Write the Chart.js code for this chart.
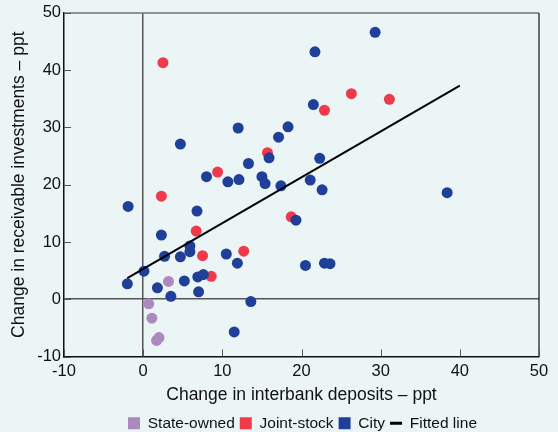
<!DOCTYPE html>
<html>
<head>
<meta charset="utf-8">
<script src="https://cdn.jsdelivr.net/npm/chart.js@4.4.1/dist/chart.umd.min.js"></script>
<style>
  html, body { margin: 0; padding: 0; background: #ebf5f6; }
  #wrap { position: relative; width: 558px; height: 432px; }
</style>
</head>
<body>
<div id="wrap"><canvas id="chart" width="558" height="432"></canvas></div>
<script>
// Valores (ppt)
const stateX = [3.2, 0.7, 1.1, 2.0, 1.7];
const stateY = [3.1, -0.8, -3.3, -6.7, -7.2];

const jointX = [2.5, 15.7, 9.4, 2.3, 6.7, 7.5, 12.7, 8.6, 26.3, 31.1, 22.9, 18.7];
const jointY = [41.3, 25.6, 22.2, 18.0, 11.9, 7.6, 8.4, 4.0, 35.9, 34.9, 33.0, 14.4];

const cityX = [12.0, 4.7, 15.9, 13.3, 8.0, 10.7, 12.1, 15.0, 15.4, -1.9, 6.8, 2.3, 5.9, 5.9,
  2.7, 4.7, 10.5, 11.9, 0.1, -2.0, 5.2, 6.9, 7.6, 1.8, 7.0, 3.5, 13.6, 11.5, 21.5, 18.3,
  17.1, 22.3, 17.4, 21.1, 22.6, 19.3, 20.5, 22.9, 23.6, 29.3, 21.7, 38.4];
const cityY = [29.9, 27.1, 24.7, 23.7, 21.4, 20.5, 20.9, 21.4, 20.2, 16.2, 15.4, 11.2, 9.3, 8.3,
  7.5, 7.4, 7.9, 6.3, 4.9, 2.7, 3.2, 3.9, 4.3, 2.0, 1.3, 0.5, -0.4, -5.7, 34.0, 30.1,
  28.3, 24.6, 19.8, 20.8, 19.1, 13.8, 5.9, 6.3, 6.2, 46.6, 43.2, 18.6];

const fitX = [-2, 40];
const fitY = [3.7, 37.3];

const axisTicks = [-10, 0, 10, 20, 30, 40, 50];

const toPoints = (xs, ys) => xs.map((x, i) => ({ x: x, y: ys[i] }));

// Moldura: borda superior/direita e marcas de escala para dentro
const framePlugin = {
  id: 'frame',
  afterLayout(chart) {
    // legenda deslocada para a direita, como no original
    const lg = chart.legend;
    if (lg) { lg.left += 33; lg.right += 33; }
  },
  afterDraw(chart) {
    const { ctx, chartArea: a, scales } = chart;
    ctx.save();
    ctx.strokeStyle = '#6e7474';
    ctx.lineWidth = 1.5;
    ctx.beginPath();
    ctx.moveTo(a.left, a.top);
    ctx.lineTo(a.right, a.top);
    ctx.stroke();
    ctx.strokeStyle = '#111';
    ctx.lineWidth = 1.2;
    ctx.beginPath();
    ctx.moveTo(a.right, a.top);
    ctx.lineTo(a.right, a.bottom);
    ctx.stroke();
    ctx.strokeStyle = '#555';
    ctx.lineWidth = 1;
    ctx.beginPath();
    axisTicks.forEach(v => {
      const px = Math.round(scales.x.getPixelForValue(v)) + 0.5;
      ctx.moveTo(px, a.bottom);
      ctx.lineTo(px, a.bottom - 7);
      const py = Math.round(scales.y.getPixelForValue(v)) + 0.5;
      ctx.moveTo(a.left, py);
      ctx.lineTo(a.left + 7, py);
    });
    ctx.stroke();
    ctx.restore();
  }
};

Chart.defaults.font.family = '"Liberation Sans", Arial, sans-serif';
Chart.defaults.color = '#111';

new Chart(document.getElementById('chart'), {
  type: 'scatter',
  data: {
    datasets: [
      {
        label: 'State-owned',
        data: toPoints(stateX, stateY),
        backgroundColor: '#ad8abd',
        pointRadius: 5.5,
        pointHoverRadius: 5.5,
        borderWidth: 0,
        order: 4
      },
      {
        label: 'Joint-stock',
        data: toPoints(jointX, jointY),
        backgroundColor: '#ef3a4b',
        pointRadius: 5.5,
        pointHoverRadius: 5.5,
        borderWidth: 0,
        order: 3
      },
      {
        label: 'City',
        data: toPoints(cityX, cityY),
        backgroundColor: '#1f3f98',
        pointRadius: 5.5,
        pointHoverRadius: 5.5,
        borderWidth: 0,
        order: 2
      },
      {
        type: 'line',
        label: 'Fitted line',
        data: toPoints(fitX, fitY),
        borderColor: '#000',
        backgroundColor: '#000',
        borderWidth: 2,
        pointRadius: 0,
        fill: false,
        order: 1
      }
    ]
  },
  options: {
    responsive: false,
    animation: false,
    layout: { autoPadding: false, padding: { top: 7, right: 19, left: 0, bottom: -9 } },
    plugins: {
      tooltip: { enabled: false },
      legend: {
        position: 'bottom',
        labels: {
          usePointStyle: true,
          boxHeight: 12,
          boxWidth: 12,
          pointStyleWidth: 12,
          padding: 5,
          color: '#111',
          font: { size: 15.5, lineHeight: 1 },
          sort: (a, b) => a.datasetIndex - b.datasetIndex,
          generateLabels(chart) {
            const items = Chart.defaults.plugins.legend.labels.generateLabels(chart);
            return items.map(it => {
              const ds = chart.data.datasets[it.datasetIndex];
              if (ds.type === 'line') {
                it.pointStyle = 'line';
                it.strokeStyle = '#000';
                it.lineWidth = 3;
              } else {
                it.pointStyle = 'rect';
                it.fillStyle = ds.backgroundColor;
                it.strokeStyle = ds.backgroundColor;
                it.lineWidth = 0;
              }
              return it;
            });
          }
        }
      }
    },
    scales: {
      x: {
        type: 'linear',
        min: -10,
        max: 50,
        afterFit: s => { s.height = 54; },
        ticks: { stepSize: 10, padding: 5, font: { size: 16.5 }, color: '#111' },
        grid: {
          drawTicks: false,
          color: c => (c.tick && c.tick.value === 0 ? '#555' : 'rgba(0,0,0,0)'),
          lineWidth: 1.5
        },
        border: { display: true, color: '#111', width: 1.5 },
        title: {
          display: true,
          text: 'Change in interbank deposits – ppt',
          font: { size: 17.5 },
          color: '#111',
          padding: { top: 0, bottom: 5 }
        }
      },
      y: {
        type: 'linear',
        min: -10,
        max: 50,
        afterFit: s => { s.width = 64; },
        ticks: { stepSize: 10, padding: 3, font: { size: 16.5 }, color: '#111' },
        grid: {
          drawTicks: false,
          color: c => (c.tick && c.tick.value === 0 ? '#555' : 'rgba(0,0,0,0)'),
          lineWidth: 1.5
        },
        border: { display: true, color: '#111', width: 1.5 },
        title: {
          display: true,
          text: 'Change in receivable investments – ppt',
          font: { size: 17.5 },
          color: '#111',
          padding: { top: 9, bottom: 0 }
        }
      }
    }
  },
  plugins: [framePlugin]
});
</script>
</body>
</html>
